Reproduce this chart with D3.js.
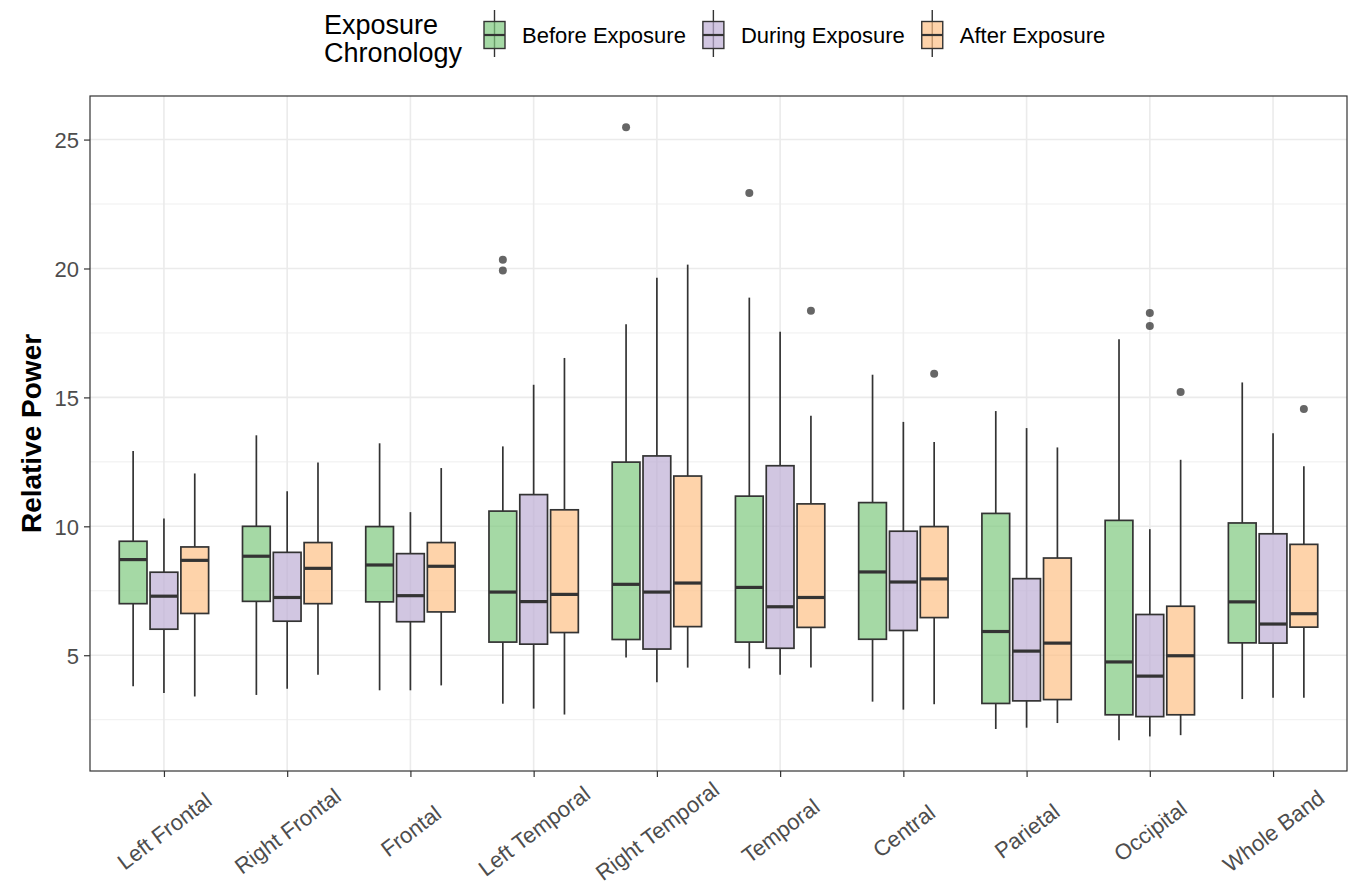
<!DOCTYPE html>
<html lang="en">
<head>
<meta charset="utf-8">
<title>Relative Power by Region</title>
<script src="https://d3js.org/d3.v7.min.js"></script>
<style>
  body { margin: 0; background: #fff; }
  svg text { font-family: "Liberation Sans", Arial, sans-serif; }
</style>
</head>
<body>
<div id="chart"></div>
<script>
// categories and groups
var regions = ["Left Frontal", "Right Frontal", "Frontal", "Left Temporal", "Right Temporal",
               "Temporal", "Central", "Parietal", "Occipital", "Whole Band"];
var groups = ["Before Exposure", "During Exposure", "After Exposure"];
var groupColors = ["#7FC97F", "#BEAED4", "#FDC086"];
var yTicks = [5, 10, 15, 20, 25];

// box stats per region: [lower whisker, Q1, median, Q3, upper whisker]
var beforeStats = [
  [3.80, 7.00, 8.71, 9.42, 12.92],
  [3.46, 7.09, 8.84, 10.00, 13.53],
  [3.64, 7.07, 8.50, 9.99, 13.22],
  [3.12, 5.51, 7.45, 10.59, 13.10],
  [4.91, 5.61, 7.75, 12.49, 17.84],
  [4.49, 5.51, 7.63, 11.17, 18.87],
  [3.20, 5.62, 8.23, 10.92, 15.88],
  [2.14, 3.13, 5.92, 10.50, 14.47],
  [1.70, 2.69, 4.74, 10.23, 17.26],
  [3.30, 5.48, 7.07, 10.13, 15.58]
];
var duringStats = [
  [3.54, 6.01, 7.29, 8.22, 10.30],
  [3.70, 6.32, 7.24, 8.99, 11.36],
  [3.64, 6.30, 7.31, 8.94, 10.55],
  [2.93, 5.43, 7.08, 11.23, 15.49],
  [3.95, 5.24, 7.45, 12.73, 19.64],
  [4.24, 5.27, 6.88, 12.35, 17.55],
  [2.89, 5.96, 7.84, 9.81, 14.05],
  [2.19, 3.23, 5.16, 7.97, 13.81],
  [1.85, 2.62, 4.19, 6.58, 9.89],
  [3.35, 5.47, 6.21, 9.71, 13.61]
];
var afterStats = [
  [3.40, 6.62, 8.68, 9.20, 12.05],
  [4.24, 7.00, 8.37, 9.37, 12.48],
  [3.83, 6.68, 8.45, 9.37, 12.26],
  [2.70, 5.88, 7.36, 10.64, 16.53],
  [4.52, 6.11, 7.80, 11.95, 20.15],
  [4.52, 6.08, 7.24, 10.87, 14.29],
  [3.10, 6.46, 7.96, 9.99, 13.27],
  [2.37, 3.28, 5.47, 8.77, 13.06],
  [1.90, 2.69, 4.98, 6.90, 12.58],
  [3.35, 6.09, 6.61, 9.30, 12.33]
];

// outliers: [region, group index, value]
var outliers = [
  ["Left Temporal", 0, 20.34], ["Left Temporal", 0, 19.92],
  ["Right Temporal", 0, 25.48],
  ["Temporal", 0, 22.93], ["Temporal", 2, 18.36],
  ["Central", 2, 15.92],
  ["Occipital", 1, 18.27], ["Occipital", 1, 17.77], ["Occipital", 2, 15.21],
  ["Whole Band", 2, 14.55]
];

var allStats = [beforeStats, duringStats, afterStats];

var W = 1351, H = 888;
var panel = {left: 90, right: 1347, top: 96, bottom: 771};

var svg = d3.select("#chart").append("svg")
    .attr("width", W)
    .attr("height", H);

var x = d3.scalePoint()
    .domain(regions)
    .range([panel.left, panel.right])
    .padding(0.6);

var y = d3.scaleLinear()
    .domain([0.51, 26.69])
    .range([panel.bottom, panel.top]);

var step = x.step();
var slot = step * 0.25;
var boxW = slot * 0.9;

// grid
var minorTicks = [2.5, 7.5, 12.5, 17.5, 22.5];
svg.append("g").selectAll("line.minor")
  .data(minorTicks).enter().append("line")
    .attr("x1", panel.left).attr("x2", panel.right)
    .attr("y1", function(d) { return y(d); })
    .attr("y2", function(d) { return y(d); })
    .attr("stroke", "#ebebeb").attr("stroke-width", 0.8);
svg.append("g").selectAll("line.major")
  .data(yTicks).enter().append("line")
    .attr("x1", panel.left).attr("x2", panel.right)
    .attr("y1", function(d) { return y(d); })
    .attr("y2", function(d) { return y(d); })
    .attr("stroke", "#ebebeb").attr("stroke-width", 1.6);
svg.append("g").selectAll("line.vmajor")
  .data(regions).enter().append("line")
    .attr("y1", panel.top).attr("y2", panel.bottom)
    .attr("x1", function(d) { return x(d); })
    .attr("x2", function(d) { return x(d); })
    .attr("stroke", "#ebebeb").attr("stroke-width", 1.6);

// boxes
allStats.forEach(function(stats, gi) {
  var g = svg.append("g");
  var cx = function(i) { return x(regions[i]) + (gi - 1) * slot; };
  stats.forEach(function(s, i) {
    var c = cx(i);
    // whiskers
    g.append("line")
      .attr("x1", c).attr("x2", c)
      .attr("y1", y(s[3])).attr("y2", y(s[4]))
      .attr("stroke", "#333").attr("stroke-width", 1.7);
    g.append("line")
      .attr("x1", c).attr("x2", c)
      .attr("y1", y(s[0])).attr("y2", y(s[1]))
      .attr("stroke", "#333").attr("stroke-width", 1.7);
    g.append("rect")
      .attr("x", c - boxW / 2).attr("width", boxW)
      .attr("y", y(s[3])).attr("height", y(s[1]) - y(s[3]))
      .attr("fill", groupColors[gi]).attr("fill-opacity", 0.7)
      .attr("stroke", "#333").attr("stroke-width", 1.7);
    g.append("line")
      .attr("x1", c - boxW / 2).attr("x2", c + boxW / 2)
      .attr("y1", y(s[2])).attr("y2", y(s[2]))
      .attr("stroke", "#333").attr("stroke-width", 3.2);
  });
});

// outliers
svg.append("g").selectAll("circle")
  .data(outliers).enter().append("circle")
    .attr("cx", function(d) { return x(d[0]) + (d[1] - 1) * slot; })
    .attr("cy", function(d) { return y(d[2]); })
    .attr("r", 4)
    .attr("fill", "#333").attr("fill-opacity", 0.75);

// panel border
svg.append("rect")
  .attr("x", panel.left).attr("y", panel.top)
  .attr("width", panel.right - panel.left).attr("height", panel.bottom - panel.top)
  .attr("fill", "none").attr("stroke", "#333").attr("stroke-width", 1.2);

// y axis
var yAxis = svg.append("g")
  .attr("transform", "translate(" + panel.left + ",0)")
  .call(d3.axisLeft(y).tickValues(yTicks).tickSize(6).tickPadding(5));
yAxis.select(".domain").remove();
yAxis.selectAll("line").attr("stroke", "#333").attr("stroke-width", 1.2);
yAxis.selectAll("text")
  .attr("fill", "#4d4d4d")
  .style("font-size", "22px")
  .attr("dy", "0.36em");

// x axis
var xAxis = svg.append("g")
  .attr("transform", "translate(0," + panel.bottom + ")")
  .call(d3.axisBottom(x).tickSize(6).tickPadding(5));
xAxis.select(".domain").remove();
xAxis.selectAll("line").attr("stroke", "#333").attr("stroke-width", 1.2);
xAxis.selectAll("text")
  .attr("fill", "#4d4d4d")
  .style("font-size", "22px")
  .attr("y", 0)
  .attr("dy", "0.35em")
  .attr("text-anchor", "middle")
  .attr("transform", function(d) { return "translate(0,60) rotate(-37)"; });

// y axis title
svg.append("text")
  .attr("transform", "translate(41," + ((panel.top + panel.bottom) / 2) + ") rotate(-90)")
  .attr("text-anchor", "middle")
  .style("font-size", "28px")
  .style("font-weight", "bold")
  .attr("fill", "#000")
  .text("Relative Power");

// legend
var legend = svg.append("g");
legend.append("text")
  .attr("x", 324).attr("y", 34)
  .style("font-size", "27px").attr("fill", "#000")
  .text("Exposure");
legend.append("text")
  .attr("x", 324).attr("y", 62)
  .style("font-size", "27px").attr("fill", "#000")
  .text("Chronology");

var keyX = 484;
groups.forEach(function(name, gi) {
  var k = legend.append("g").attr("transform", "translate(" + keyX + ",0)");
  k.append("line")
    .attr("x1", 10.5).attr("x2", 10.5).attr("y1", 10).attr("y2", 57)
    .attr("stroke", "#333").attr("stroke-width", 1.4);
  k.append("rect")
    .attr("x", 0).attr("y", 21.5).attr("width", 21).attr("height", 27)
    .attr("fill", groupColors[gi]).attr("fill-opacity", 0.7)
    .attr("stroke", "#333").attr("stroke-width", 1.4);
  k.append("line")
    .attr("x1", 0).attr("x2", 21).attr("y1", 35).attr("y2", 35)
    .attr("stroke", "#333").attr("stroke-width", 2.2);
  var t = legend.append("text")
    .attr("x", keyX + 38).attr("y", 43)
    .style("font-size", "22px").attr("fill", "#000")
    .text(name);
  keyX = keyX + 38 + t.node().getComputedTextLength() + 17;
});
</script>
</body>
</html>
